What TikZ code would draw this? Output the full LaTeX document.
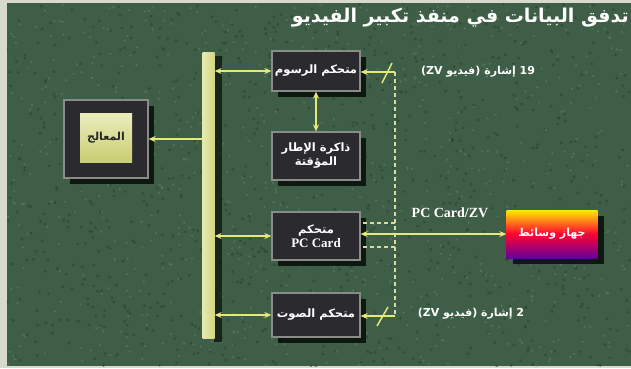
\documentclass[tikz,border=0pt]{standalone}
\usepackage{fontspec}
\setmainfont{Liberation Serif}
\newfontfamily\arabicfont[Script=Arabic]{DejaVu Sans}
\TeXXeTstate=1
\usetikzlibrary{arrows.meta,shadows}
\definecolor{grass}{HTML}{3E5E47}
\definecolor{grassdark}{HTML}{2A4332}
\definecolor{grasslight}{HTML}{5E7E64}
\definecolor{frame}{HTML}{D8DACF}
\definecolor{boxfill}{HTML}{2B2A2E}
\definecolor{boxedge}{HTML}{8A8C88}
\definecolor{lineyel}{HTML}{E6E87A}
\definecolor{busyel}{HTML}{DCE08E}
\definecolor{dashyel}{HTML}{D8DCA0}
\begin{document}
\begin{tikzpicture}[x=1pt,y=-1pt,
  chip/.style={draw=boxedge, line width=1.2pt, fill=boxfill, text=white,
    font=\arabicfont\bfseries\fontsize{11.5}{14}\selectfont, align=center,
    minimum width=88pt, inner sep=0pt,
    drop shadow={shadow xshift=6pt, shadow yshift=-6pt, fill=black, opacity=0.75}},
  arr/.style={draw=lineyel, line width=1.8pt},
  twoway/.style={arr, {Stealth[length=7pt,width=6pt]}-{Stealth[length=7pt,width=6pt]}},
  oneway/.style={arr, -{Stealth[length=7pt,width=6pt]}},
  dashln/.style={draw=dashyel, line width=1.5pt, dash pattern=on 4pt off 3pt},
  slash/.style={draw=lineyel, line width=1.5pt},
  lbl/.style={text=white, inner sep=0pt},
  arlbl/.style={lbl, font=\arabicfont\bfseries\fontsize{11}{13}\selectfont}]
\useasboundingbox (0,0) rectangle (631,368);
\fill[frame] (0,0) rectangle (631,368);
\fill[grass] (7,3) rectangle (631,366);
% grass texture
\begin{scope}
\clip (7,3) rectangle (631,366);
\pgfmathsetseed{7}
\foreach \i in {1,...,900}{
  \pgfmathsetmacro{\px}{7+624*rnd}
  \pgfmathsetmacro{\py}{3+363*rnd}
  \fill[grassdark, opacity=0.6] (\px,\py) circle (1.6pt);
}
\foreach \i in {1,...,700}{
  \pgfmathsetmacro{\px}{7+624*rnd}
  \pgfmathsetmacro{\py}{3+363*rnd}
  \fill[grasslight, opacity=0.6] (\px,\py) circle (1.3pt);
}
\end{scope}

% title
\node[lbl, anchor=east, font=\arabicfont\bfseries\fontsize{19}{22}\selectfont] (title) at (629,18)
  {\beginR تدفق البيانات في منفذ تكبير الفيديو\endR};

% processor
\node[draw=boxedge, line width=1.2pt, fill=boxfill, minimum width=84pt, minimum height=78pt,
  drop shadow={shadow xshift=6pt, shadow yshift=-6pt, fill=black, opacity=0.75}] (cpuframe) at (106,139) {};
\node[top color=busyel!60!white, bottom color=busyel!80!olive, draw=none, minimum width=52pt, minimum height=49pt,
  font=\arabicfont\bfseries\fontsize{11}{13}\selectfont, text=black!85] (cpu) at (106,138) {\beginR المعالج\endR};

% bus
\fill[black, opacity=0.6] (214,56) rectangle (222,342);
\node[left color=busyel!70!white, right color=busyel!90!olive, minimum width=12pt, minimum height=286pt, inner sep=0pt] (bus) at (208.5,195) {};

% right-hand chips
\node[chip, minimum height=40pt] (gfx) at (316,71) {\beginR متحكم الرسوم\endR};
\node[chip, minimum height=48pt] (fbuf) at (316,156) {\beginR ذاكرة الإطار\endR\\\beginR المؤقتة\endR};
\node[chip, minimum height=48pt] (pcc) at (316,236) {\beginR متحكم\endR\\{\rmfamily\bfseries\fontsize{13}{15}\selectfont PC Card}};
\node[chip, minimum height=44pt] (snd) at (316,315) {\beginR متحكم الصوت\endR};

% media device
\node[draw=none, inner sep=0pt, minimum width=91pt, minimum height=48pt, text=white,
  font=\arabicfont\bfseries\fontsize{11}{13}\selectfont,
  top color=yellow!85!orange, bottom color=violet!80!blue, middle color=red!80!magenta,
  drop shadow={shadow xshift=6pt, shadow yshift=-6pt, fill=black, opacity=0.75}] (media) at (552,234) {\beginR جهاز وسائط\endR};

% bus connectors
\draw[oneway] (bus.west |- cpuframe.east) -- (cpuframe.east);
\draw[twoway] (bus.east |- gfx) -- (gfx.west);
\draw[twoway] (bus.east |- pcc) -- (pcc.west);
\draw[twoway] (bus.east |- snd) -- (snd.west);
\draw[twoway] (gfx.south) -- (fbuf.north);

% ZV path
\coordinate (ztop) at (395,72);
\coordinate (zbot) at (395,316);
\coordinate (zup) at (395,223);
\coordinate (zdn) at (395,247);
\draw[dashln] (ztop) -- (zbot);
\draw[dashln] (zup) -- (pcc.east |- zup);
\draw[dashln] (zdn) -- (pcc.east |- zdn);
\draw[oneway] (ztop) -- (gfx.east |- ztop);
\draw[oneway] (zbot) -- (snd.east |- zbot);
\draw[slash] (382,83) -- (392,63);
\draw[slash] (377,326) -- (388,307);
\draw[twoway] (pcc.east |- media.west) -- (media.west);

% labels
\node[arlbl] (l19) at (478,72) {\beginR\beginL 19\endL{} إشارة (فيديو \beginL ZV\endL)\endR};
\node[arlbl] (l2) at (471,314) {\beginR\beginL 2\endL{} إشارة (فيديو \beginL ZV\endL)\endR};
\node[lbl, font=\rmfamily\bfseries\fontsize{14}{16}\selectfont] (lpc) at (450,213) {PC Card/ZV};
\end{tikzpicture}
\end{document}
